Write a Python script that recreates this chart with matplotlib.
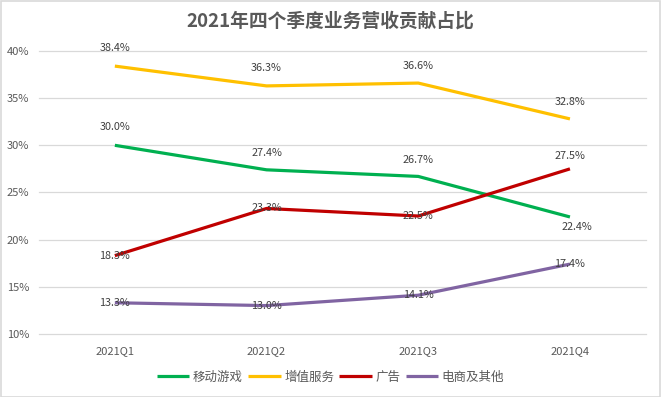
import matplotlib
matplotlib.use("Agg")
import matplotlib.pyplot as plt
from matplotlib.patches import Rectangle

plt.rcParams['font.family'] = ['Noto Sans CJK SC', 'DejaVu Sans']

quarters = ['2021Q1', '2021Q2', '2021Q3', '2021Q4']
series_names = ['移动游戏', '增值服务', '广告', '电商及其他']
mobile_games = [30.0, 27.4, 26.7, 22.4]
value_added = [38.4, 36.3, 36.6, 32.8]
advertising = [18.3, 23.3, 22.5, 27.5]
ecommerce = [13.3, 13.0, 14.1, 17.4]
yticks = [10, 15, 20, 25, 30, 35, 40]

colors = ['#00B050', '#FFC000', '#C00000', '#8064A2']
# label offsets in points (dx, dy) per series / point
label_offsets = [
    [(0, 13), (0, 12), (0, 12), (5, -7)],
    [(0, 13), (0, 13), (0, 12), (0, 12)],
    [(0, 0), (0, 0), (0, 0), (0, 9)],
    [(0, 0), (0, 0), (0, 0), (0, 0)],
]

fig = plt.figure(figsize=(6.61, 3.97), dpi=100)
fig.patches.append(Rectangle((0.001, 0.001), 0.997, 0.997, transform=fig.transFigure,
                             fill=False, edgecolor='#D9D9D9', linewidth=1.2))
ax = fig.add_axes([0.059, 0.159, 0.918, 0.7125])

x = list(range(len(quarters)))
all_series = [mobile_games, value_added, advertising, ecommerce]
for vals, name, col, offs in zip(all_series, series_names, colors, label_offsets):
    ax.plot(x, vals, color=col, lw=2.3, label=name, solid_capstyle='butt', zorder=3)
    for xi, v, (dx, dy) in zip(x, vals, offs):
        ax.annotate(f'{v:.1f}%', (xi, v), xytext=(dx, dy), textcoords='offset points',
                    ha='center', va='center', fontsize=7.8, color='#404040', zorder=4)

ax.set_xlim(-0.5, 3.5)
ax.set_ylim(10, 40)
ax.set_xticks(x)
ax.set_xticklabels(quarters)
ax.set_yticks(yticks)
ax.set_yticklabels([f'{t}%' for t in yticks])
ax.tick_params(length=0, colors='#595959', labelsize=8)
ax.tick_params(axis='y', pad=7)
ax.tick_params(axis='x', pad=9)
for t in yticks:
    ax.axhline(t, color='#D9D9D9', lw=0.9, clip_on=False, zorder=1)
for s in ax.spines.values():
    s.set_visible(False)

fig.suptitle('2021年四个季度业务营收贡献占比', y=0.97, fontsize=13.5, fontweight='bold',
             color='#595959')
fig.legend(loc='center', bbox_to_anchor=(0.5, 0.05), ncol=4, frameon=False,
           fontsize=9, handlelength=2.6, handletextpad=0.3, columnspacing=0.4,
           labelcolor='#595959')

fig.savefig('out.png', dpi=100)
